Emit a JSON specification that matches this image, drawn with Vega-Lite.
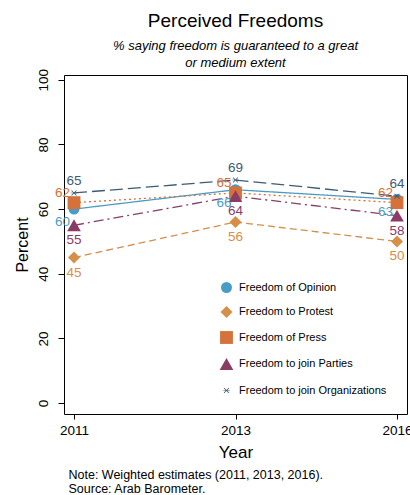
{
  "$schema": "https://vega.github.io/schema/vega-lite/v6.json",
  "width": 343,
  "height": 339,
  "autosize": {"type": "none"},
  "padding": {"left": 64, "top": 75, "right": 3, "bottom": 81},
  "background": "white",
  "config": {
    "font": "Liberation Sans",
    "view": {"stroke": "black", "strokeWidth": 1},
    "axis": {
      "grid": false,
      "domain": false,
      "tickColor": "black",
      "labelColor": "black",
      "titleColor": "black",
      "labelFont": "Liberation Sans",
      "titleFont": "Liberation Sans",
      "titleFontWeight": "normal"
    }
  },
  "title": {
    "text": "Perceived Freedoms",
    "subtitle": ["% saying freedom is guaranteed to a great", "or medium extent"],
    "fontSize": 19,
    "fontWeight": "normal",
    "color": "black",
    "subtitleFontSize": 13,
    "subtitleFontStyle": "italic",
    "subtitleColor": "black",
    "subtitleLineHeight": 17,
    "subtitlePadding": 9,
    "anchor": "middle",
    "offset": -1
  },
  "datasets": {
    "d": [
      {"Year": "2011", "Series": "Freedom of Opinion", "Value": 60},
      {"Year": "2013", "Series": "Freedom of Opinion", "Value": 66},
      {"Year": "2016", "Series": "Freedom of Opinion", "Value": 63},
      {"Year": "2011", "Series": "Freedom to Protest", "Value": 45},
      {"Year": "2013", "Series": "Freedom to Protest", "Value": 56},
      {"Year": "2016", "Series": "Freedom to Protest", "Value": 50},
      {"Year": "2011", "Series": "Freedom of Press", "Value": 62},
      {"Year": "2013", "Series": "Freedom of Press", "Value": 65},
      {"Year": "2016", "Series": "Freedom of Press", "Value": 62},
      {"Year": "2011", "Series": "Freedom to join Parties", "Value": 55},
      {"Year": "2013", "Series": "Freedom to join Parties", "Value": 64},
      {"Year": "2016", "Series": "Freedom to join Parties", "Value": 58},
      {"Year": "2011", "Series": "Freedom to join Organizations", "Value": 65},
      {"Year": "2013", "Series": "Freedom to join Organizations", "Value": 69},
      {"Year": "2016", "Series": "Freedom to join Organizations", "Value": 64}
    ]
  },
  "data": {"name": "d"},
  "resolve": {"axis": {"x": "independent"}},
  "layer": [
    {
      "mark": {"type": "line", "strokeWidth": 1.3},
      "encoding": {
        "x": {
          "field": "Year", "type": "ordinal",
          "scale": {"type": "point", "padding": 0.062},
          "axis": {"orient": "bottom", "title": "Year", "labelAngle": 0, "labelFontSize": 13.5, "titleFontSize": 17, "tickSize": 5, "labelPadding": 4, "titlePadding": 8}
        },
        "y": {
          "field": "Value", "type": "quantitative",
          "scale": {"domain": [-3.4, 101.5], "nice": false, "zero": false},
          "axis": {"title": "Percent", "values": [0, 20, 40, 60, 80, 100], "labelAngle": -90, "labelAlign": "center", "labelBaseline": "bottom", "labelFontSize": 13.5, "tickSize": 6, "labelPadding": 8, "titleFontSize": 16, "titlePadding": 6}
        },
        "color": {
          "field": "Series", "type": "nominal",
          "scale": {
            "domain": ["Freedom of Opinion", "Freedom to Protest", "Freedom of Press", "Freedom to join Parties", "Freedom to join Organizations"],
            "range": ["#4a9cc6", "#d58f48", "#d5713a", "#8a3c67", "#3d5b71"]
          }
        },
        "strokeDash": {
          "field": "Series", "type": "nominal", "legend": null,
          "scale": {
            "domain": ["Freedom of Opinion", "Freedom to Protest", "Freedom of Press", "Freedom to join Parties", "Freedom to join Organizations"],
            "range": [[1, 0], [7, 4], [2, 3], [10, 4, 2, 4], [13, 5]]
          }
        }
      }
    },
    {
      "mark": {"type": "point", "filled": true, "opacity": 1},
      "encoding": {
        "x": {"field": "Year", "type": "ordinal", "axis": null},
        "y": {"field": "Value", "type": "quantitative"},
        "color": {
          "field": "Series", "type": "nominal",
          "legend": {"orient": "none", "legendX": 155, "legendY": 207, "title": null, "labelFont": "Liberation Sans", "labelFontSize": 11, "labelColor": "black", "labelOffset": 5, "rowPadding": 13, "symbolSize": 110, "symbolStrokeWidth": 0, "symbolOpacity": 1}
        },
        "shape": {
          "field": "Series", "type": "nominal",
          "legend": {"orient": "none", "legendX": 155, "legendY": 207, "title": null, "labelFont": "Liberation Sans", "labelFontSize": 11, "labelColor": "black", "labelOffset": 5, "rowPadding": 13, "symbolSize": 110, "symbolStrokeWidth": 0, "symbolOpacity": 1},
          "scale": {
            "domain": ["Freedom of Opinion", "Freedom to Protest", "Freedom of Press", "Freedom to join Parties", "Freedom to join Organizations"],
            "range": ["circle", "diamond", "square", "triangle-up", "M-0.38,-0.3L-0.3,-0.38L0,-0.08L0.3,-0.38L0.38,-0.3L0.08,0L0.38,0.3L0.3,0.38L0,0.08L-0.3,0.38L-0.38,0.3L-0.08,0ZM-0.46,-0.045L0.46,-0.045L0.46,0.045L-0.46,0.045Z"]
          }
        },
        "size": {
          "field": "Series", "type": "nominal",
          "legend": null,
          "scale": {
            "domain": ["Freedom of Opinion", "Freedom to Protest", "Freedom of Press", "Freedom to join Parties", "Freedom to join Organizations"],
            "range": [121, 210, 121, 150, 110]
          }
        }
      }
    },
    {
      "transform": [{"filter": "datum.Series === 'Freedom of Opinion'"}],
      "mark": {"type": "text", "align": "right", "baseline": "middle", "dx": -4, "dy": 13, "fontSize": 13.5, "color": "#4a9cc6"},
      "encoding": {
        "x": {"field": "Year", "type": "ordinal", "axis": null},
        "y": {"field": "Value", "type": "quantitative"},
        "text": {"field": "Value", "type": "quantitative"}
      }
    },
    {
      "transform": [{"filter": "datum.Series === 'Freedom to Protest'"}],
      "mark": {"type": "text", "align": "center", "baseline": "middle", "dy": 15, "fontSize": 13.5, "color": "#d58f48"},
      "encoding": {
        "x": {"field": "Year", "type": "ordinal", "axis": null},
        "y": {"field": "Value", "type": "quantitative"},
        "text": {"field": "Value", "type": "quantitative"}
      }
    },
    {
      "transform": [{"filter": "datum.Series === 'Freedom of Press'"}],
      "mark": {"type": "text", "align": "right", "baseline": "middle", "dx": -4, "dy": -10, "fontSize": 13.5, "color": "#d5713a"},
      "encoding": {
        "x": {"field": "Year", "type": "ordinal", "axis": null},
        "y": {"field": "Value", "type": "quantitative"},
        "text": {"field": "Value", "type": "quantitative"}
      }
    },
    {
      "transform": [{"filter": "datum.Series === 'Freedom to join Parties'"}],
      "mark": {"type": "text", "align": "center", "baseline": "middle", "dy": 15, "fontSize": 13.5, "color": "#8a3c67"},
      "encoding": {
        "x": {"field": "Year", "type": "ordinal", "axis": null},
        "y": {"field": "Value", "type": "quantitative"},
        "text": {"field": "Value", "type": "quantitative"}
      }
    },
    {
      "transform": [{"filter": "datum.Series === 'Freedom to join Organizations'"}],
      "mark": {"type": "text", "align": "center", "baseline": "middle", "dy": -12, "fontSize": 13.5, "color": "#3d5b71"},
      "encoding": {
        "x": {"field": "Year", "type": "ordinal", "axis": null},
        "y": {"field": "Value", "type": "quantitative"},
        "text": {"field": "Value", "type": "quantitative"}
      }
    },
    {
      "mark": {"type": "point", "opacity": 0},
      "encoding": {
        "x": {
          "field": "Year", "type": "ordinal",
          "axis": {"orient": "bottom", "offset": 50, "title": ["Note: Weighted estimates (2011, 2013, 2016).", "Source: Arab Barometer."], "labels": false, "ticks": false, "domain": false, "titleAnchor": "start", "titleAlign": "left", "titleFontSize": 12.5, "titleLineHeight": 14, "titlePadding": 4, "titleX": 4}
        },
        "y": {"field": "Value", "type": "quantitative"}
      }
    }
  ]
}
